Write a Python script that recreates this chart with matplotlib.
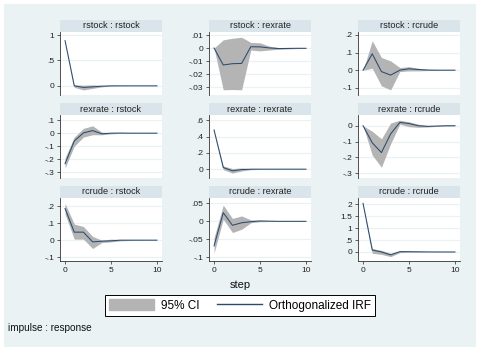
import matplotlib
matplotlib.use("Agg")
import matplotlib.pyplot as plt
from matplotlib.patches import Rectangle, Patch
from matplotlib.lines import Line2D

plt.rcParams['font.family'] = ['Liberation Sans', 'DejaVu Sans']
plt.rcParams['axes.unicode_minus'] = False

# =============================================================================
# data
# =============================================================================
steps = list(range(11))

# impulse : response
irf_rstock_rstock = [0.89, 0.0, -0.03, -0.02, -0.006, 0.0, 0.0, 0.0, 0.0, 0.0, 0.0]
lo_rstock_rstock = [0.89, -0.03, -0.08, -0.05, -0.02, -0.005, -0.002, 0.0, 0.0, 0.0, 0.0]
hi_rstock_rstock = [0.89, 0.02, 0.013, 0.02, 0.007, 0.003, 0.001, 0.0, 0.0, 0.0, 0.0]

irf_rstock_rexrate = [0.0, -0.0130, -0.0120, -0.0118, 0.0010, 0.0009, 0.0001, -0.0004, -0.0003, -0.0002, -0.0002]
lo_rstock_rexrate = [0.0, -0.0320, -0.0318, -0.0320, -0.0015, -0.0022, -0.0015, -0.0010, -0.0007, -0.0004, -0.0003]
hi_rstock_rexrate = [0.0, 0.0063, 0.0075, 0.0083, 0.0043, 0.0040, 0.0015, 0.0004, 0.0002, 0.0001, 0.0]

irf_rstock_rcrude = [0.0, 0.093, -0.008, -0.028, 0.0, 0.008, 0.004, 0.001, 0.0, 0.0, 0.0]
lo_rstock_rcrude = [0.0, 0.011, -0.089, -0.112, -0.008, -0.004, -0.004, -0.002, -0.001, -0.0005, -0.0003]
hi_rstock_rcrude = [0.0, 0.167, 0.072, 0.053, 0.015, 0.02, 0.011, 0.004, 0.002, 0.001, 0.0005]

irf_rexrate_rstock = [-0.235, -0.06, 0.002, 0.02, -0.005, 0.0, 0.001, 0.0, 0.0, 0.0, 0.0]
lo_rexrate_rstock = [-0.268, -0.1, -0.03, -0.012, -0.012, -0.005, -0.002, -0.001, -0.0005, -0.0003, -0.0002]
hi_rexrate_rstock = [-0.19, -0.03, 0.037, 0.057, 0.008, 0.004, 0.003, 0.001, 0.0005, 0.0003, 0.0002]

irf_rexrate_rexrate = [0.48, 0.02, -0.02, -0.005, 0.0, 0.0, 0.0, 0.0, 0.0, 0.0, 0.0]
lo_rexrate_rexrate = [0.48, -0.005, -0.048, -0.022, -0.007, -0.002, -0.001, 0.0, 0.0, 0.0, 0.0]
hi_rexrate_rexrate = [0.48, 0.04, 0.008, 0.015, 0.006, 0.002, 0.001, 0.0, 0.0, 0.0, 0.0]

irf_rexrate_rcrude = [0.0, -0.108, -0.17, -0.052, 0.021, 0.014, 0.0, -0.004, -0.002, 0.0, 0.0]
lo_rexrate_rcrude = [0.0, -0.186, -0.263, -0.114, 0.01, -0.006, -0.01, -0.008, -0.004, -0.002, -0.001]
hi_rexrate_rcrude = [0.0, -0.035, -0.083, 0.017, 0.035, 0.025, 0.01, 0.002, 0.001, 0.001, 0.0005]

irf_rcrude_rstock = [0.186, 0.047, 0.047, -0.01, -0.006, -0.004, 0.0, 0.0, 0.0, 0.0, 0.0]
lo_rcrude_rstock = [0.153, 0.006, 0.006, -0.049, -0.014, -0.01, -0.004, -0.002, -0.001, -0.0005, -0.0003]
hi_rcrude_rstock = [0.216, 0.094, 0.08, 0.022, 0.0, 0.006, 0.004, 0.002, 0.001, 0.0005, 0.0003]

irf_rcrude_rexrate = [-0.068, 0.024, -0.011, -0.004, -0.001, 0.001, 0.0005, 0.0, 0.0, 0.0, 0.0]
lo_rcrude_rexrate = [-0.088, 0.006, -0.031, -0.022, -0.004, -0.001, -0.0005, -0.0004, -0.0003, -0.0002, -0.0001]
hi_rcrude_rexrate = [-0.045, 0.045, 0.008, 0.015, 0.004, 0.003, 0.0015, 0.0007, 0.0003, 0.0002, 0.0001]

irf_rcrude_rcrude = [2.04, 0.08, 0.0, -0.12, 0.014, 0.012, 0.008, 0.003, 0.001, 0.0, 0.0]
lo_rcrude_rcrude = [2.04, -0.055, -0.1, -0.195, -0.028, -0.006, -0.004, -0.002, -0.001, 0.0, 0.0]
hi_rcrude_rcrude = [2.04, 0.15, 0.07, -0.055, 0.04, 0.03, 0.02, 0.008, 0.004, 0.002, 0.001]

titles = ['rstock : rstock', 'rstock : rexrate', 'rstock : rcrude',
          'rexrate : rstock', 'rexrate : rexrate', 'rexrate : rcrude',
          'rcrude : rstock', 'rcrude : rexrate', 'rcrude : rcrude']

irfs = [irf_rstock_rstock, irf_rstock_rexrate, irf_rstock_rcrude,
        irf_rexrate_rstock, irf_rexrate_rexrate, irf_rexrate_rcrude,
        irf_rcrude_rstock, irf_rcrude_rexrate, irf_rcrude_rcrude]
los = [lo_rstock_rstock, lo_rstock_rexrate, lo_rstock_rcrude,
       lo_rexrate_rstock, lo_rexrate_rexrate, lo_rexrate_rcrude,
       lo_rcrude_rstock, lo_rcrude_rexrate, lo_rcrude_rcrude]
his = [hi_rstock_rstock, hi_rstock_rexrate, hi_rstock_rcrude,
       hi_rexrate_rstock, hi_rexrate_rexrate, hi_rexrate_rcrude,
       hi_rcrude_rstock, hi_rcrude_rexrate, hi_rcrude_rcrude]

yticks = [[0, 0.5, 1], [-0.03, -0.02, -0.01, 0, 0.01], [-0.1, 0, 0.1, 0.2],
          [-0.3, -0.2, -0.1, 0, 0.1], [0, 0.2, 0.4, 0.6], [-0.3, -0.2, -0.1, 0],
          [-0.1, 0, 0.1, 0.2], [-0.1, -0.05, 0, 0.05], [0, 0.5, 1, 1.5, 2]]
xticks = [0, 5, 10]

# axis ranges
ylims = [(-0.18, 1.06), (-0.036, 0.0123), (-0.141, 0.217),
         (-0.345, 0.14), (-0.108, 0.664), (-0.331, 0.068),
         (-0.122, 0.247), (-0.110, 0.0647), (-0.378, 2.265)]

# =============================================================================
# style
# =============================================================================
bg = '#eaf2f3'
strip_c = '#d9e5eb'
grid_c = '#eaf2f3'
line_c = '#2a4a6e'
ci_c = '#b4b4b4'

W, H = 480, 351

def stata_fmt(v):
    s = '%g' % v
    if s.startswith('0.'):
        s = s[1:]
    elif s.startswith('-0.'):
        s = '-' + s[2:]
    return s

def fbox(x, y, w, h):
    # pixel box (top-left origin) -> figure fraction
    return [x / W, 1 - (y + h) / H, w / W, h / H]

fig = plt.figure(figsize=(4.8, 3.51), dpi=100, facecolor='white')
fig.patches.append(Rectangle((4 / W, 4 / H), 472 / W, 343 / H, transform=fig.transFigure,
                             facecolor=bg, edgecolor='none', zorder=-10))

col_x = [60, 209, 358]
row_y = [20, 103, 186]
pw, sh, ph = 102, 12, 63

for i in range(9):
    r, c = divmod(i, 3)
    x0, y0 = col_x[c], row_y[r]
    # strip
    sax = fig.add_axes(fbox(x0, y0, pw, sh))
    sax.set_facecolor(strip_c)
    sax.set_xticks([]); sax.set_yticks([])
    for sp in sax.spines.values():
        sp.set_visible(False)
    sax.text(0.5, 0.5, titles[i], ha='center', va='center', fontsize=6.6, color='#222222',
             transform=sax.transAxes)
    # plot
    ax = fig.add_axes(fbox(x0, y0 + sh, pw, ph))
    ax.set_facecolor('white')
    ax.fill_between(steps, los[i], his[i], color=ci_c, lw=0, zorder=2)
    ax.plot(steps, irfs[i], color=line_c, lw=0.75, zorder=3)
    ax.set_xlim(-0.55, 10.55)
    ax.set_ylim(*ylims[i])
    ax.set_yticks(yticks[i])
    ax.set_yticklabels([stata_fmt(v) for v in yticks[i]])
    ax.yaxis.grid(True, color=grid_c, lw=0.9)
    ax.set_axisbelow(True)
    ax.tick_params(axis='y', length=2.5, width=0.5, pad=1.5, labelsize=6, colors='#222222')
    for sp in ['top', 'right']:
        ax.spines[sp].set_visible(False)
    ax.spines['left'].set_linewidth(0.6)
    ax.spines['left'].set_color('#333333')
    if r == 2:
        ax.set_xticks(xticks)
        ax.tick_params(axis='x', length=2.5, width=0.5, pad=2, labelsize=6, colors='#222222')
        ax.spines['bottom'].set_linewidth(0.6)
        ax.spines['bottom'].set_color('#333333')
    else:
        ax.set_xticks([])
        ax.spines['bottom'].set_visible(False)

fig.text(240 / W, 1 - 285 / H, 'step', ha='center', va='center', fontsize=8, color='#111111')

handles = [Patch(facecolor=ci_c, edgecolor=ci_c), Line2D([], [], color=line_c, lw=1)]
leg = fig.legend(handles, ['95% CI', 'Orthogonalized IRF'], ncol=2, loc='center',
                 bbox_to_anchor=(240 / W, 1 - 305.5 / H), fontsize=8.5, frameon=True,
                 fancybox=False, edgecolor='black', facecolor='white', framealpha=1,
                 handlelength=3.8, handleheight=1.1, handletextpad=0.6, columnspacing=1.5,
                 borderpad=0.35)
leg.get_frame().set_linewidth(0.7)

fig.text(8 / W, 1 - 328 / H, 'impulse : response', ha='left', va='center', fontsize=7.2,
         color='#111111')

fig.savefig('out.png', dpi=100, facecolor='white')
